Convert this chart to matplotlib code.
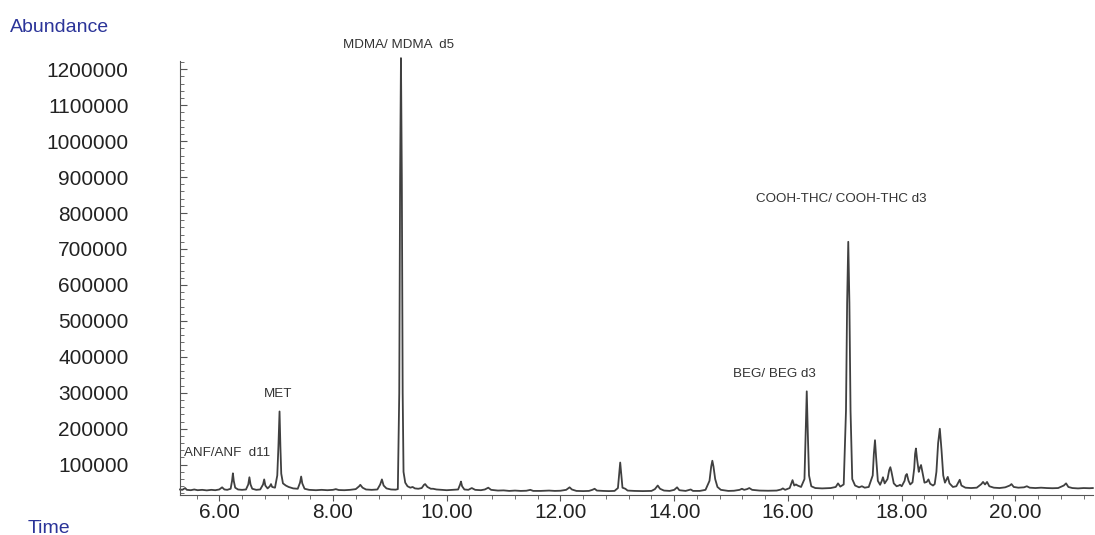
import matplotlib.pyplot as plt
from matplotlib.ticker import MultipleLocator, FormatStrFormatter

plt.rcParams['font.family'] = ['Liberation Sans', 'DejaVu Sans']

# retention time (min) and abundance
time = [5.31, 5.35, 5.38, 5.40, 5.43, 5.50, 5.56, 5.62, 5.70, 5.78, 5.86, 5.93, 6.00, 6.05, 6.09,
        6.14, 6.20, 6.225, 6.24, 6.255, 6.28, 6.33, 6.40, 6.47, 6.51, 6.53, 6.55, 6.58, 6.65, 6.72,
        6.77, 6.79, 6.81, 6.85, 6.89, 6.91, 6.93, 6.98, 7.02, 7.04, 7.06, 7.075, 7.09, 7.12, 7.17,
        7.22, 7.30, 7.38, 7.42, 7.44, 7.46, 7.50, 7.58, 7.70, 7.80, 7.90, 8.00, 8.05, 8.10, 8.20,
        8.30, 8.40, 8.46, 8.48, 8.52, 8.58, 8.68, 8.78, 8.83, 8.86, 8.89, 8.94, 9.02, 9.10, 9.14,
        9.165, 9.18, 9.195, 9.21, 9.225, 9.24, 9.27, 9.31, 9.36, 9.40, 9.44, 9.50, 9.56, 9.60, 9.62,
        9.66, 9.72, 9.76, 9.82, 9.90, 10.00, 10.10, 10.20, 10.235, 10.25, 10.27, 10.31, 10.38, 10.44,
        10.50, 10.60, 10.67, 10.73, 10.78, 10.90, 11.00,
        11.10, 11.20, 11.30, 11.40, 11.47, 11.52, 11.65, 11.80, 11.90, 12.00, 12.10, 12.16, 12.20,
        12.28, 12.40, 12.50, 12.56, 12.60, 12.64, 12.75, 12.85, 12.95, 13.01, 13.03, 13.05, 13.07,
        13.09, 13.14, 13.18, 13.30, 13.45, 13.60, 13.66, 13.71, 13.75, 13.82, 13.92, 14.00, 14.05,
        14.09, 14.20, 14.29, 14.33, 14.45, 14.55, 14.62, 14.65, 14.67, 14.69, 14.72, 14.76, 14.82,
        14.95, 15.05, 15.15, 15.19, 15.23, 15.28, 15.32, 15.37, 15.50, 15.65, 15.80, 15.88, 15.91,
        15.95, 16.03, 16.08, 16.11, 16.14, 16.17, 16.23, 16.29, 16.31, 16.33, 16.35, 16.37, 16.41,
        16.48,
        16.60, 16.75, 16.84, 16.88, 16.92, 16.98, 17.02, 17.04, 17.06, 17.08, 17.10, 17.13, 17.18,
        17.25, 17.30, 17.35, 17.42, 17.49, 17.51, 17.53, 17.55, 17.58, 17.62, 17.65, 17.67, 17.70,
        17.75, 17.78, 17.80, 17.82, 17.86, 17.91, 17.95, 17.97, 18.00, 18.05, 18.07, 18.09, 18.12,
        18.15, 18.19, 18.22, 18.235, 18.25, 18.27, 18.30, 18.32, 18.34, 18.37, 18.40, 18.44, 18.47,
        18.50, 18.55, 18.58, 18.61, 18.64, 18.67, 18.70, 18.73, 18.76, 18.79, 18.81, 18.84, 18.90,
        18.96, 19.00, 19.02, 19.05, 19.12, 19.22, 19.32, 19.40, 19.43, 19.465, 19.50, 19.54, 19.62,
        19.72, 19.82, 19.90, 19.93, 19.97, 20.05, 20.15, 20.20, 20.25, 20.35, 20.45, 20.55, 20.65,
        20.75, 20.85, 20.89, 20.93, 21.00, 21.10, 21.20, 21.30, 21.36]

abundance = [31000, 30000, 33000, 35000, 30000, 29000, 31000, 29000, 30000, 28500, 30000, 29000, 31000, 37000, 31000,
             30000, 33000, 55000, 76000, 55000, 36000, 31000, 30000, 31000, 45000, 65000, 45000, 33000, 30000, 31000,
             45000, 59000, 42000, 34000, 40000, 46000, 38000, 36000, 70000, 150000, 248000, 150000, 75000, 48000, 42000,
             38000, 34000, 33000, 50000, 67000, 48000, 33000, 30000, 29000, 30000, 29000, 30000, 32000, 29500, 29000,
             30000, 32000, 40000, 44000, 36000, 31000, 30000, 31000, 45000, 59000, 42000, 34000, 31000, 30500, 32000,
             300000, 900000, 1231000, 900000, 300000, 80000, 50000, 40000, 36000, 38000, 34000, 33000, 35000, 44000, 46000,
             38000, 33000, 33000, 31000, 30000, 29000, 30000, 31000, 45000, 53000, 40000, 31000, 30000, 35000,
             30000, 29000, 31000, 36000, 30000, 28000, 28500,
             27000, 28000, 27000, 27500, 30000, 27000, 27000, 28000, 27000, 27500, 30000, 37000, 31000,
             27000, 26500, 27000, 30000, 33000, 28000, 27000, 26500, 27000, 35000, 70000, 106000, 70000,
             36000, 33000, 28000, 27000, 26500, 27000, 32000, 42000, 33000, 28000, 27000, 30000, 37000,
             29000, 27000, 31000, 27000, 27000, 30000, 55000, 95000, 111000, 95000, 60000, 38000, 30000,
             27000, 27500, 30000, 33000, 30000, 32000, 35000, 30000, 28000, 27500, 28000, 31000, 34000,
             30000, 35000, 57000, 42000, 45000, 42000, 38000, 60000, 180000, 304000, 180000, 70000, 40000,
             35000,
             34000, 35000, 38000, 48000, 39000, 45000, 250000, 550000, 720000, 550000, 250000, 60000, 42000,
             37000, 40000, 36000, 38000, 70000, 130000, 168000, 120000, 55000, 44000, 55000, 65000, 48000,
             60000, 85000, 93000, 80000, 48000, 40000, 42000, 44000, 40000, 55000, 70000, 74000, 55000,
             45000, 51000, 90000, 130000, 145000, 115000, 80000, 92000, 99000, 75000, 50000, 52000, 59000,
             47000, 42000, 46000, 80000, 160000, 200000, 140000, 70000, 50000, 60000, 66000, 48000, 38000,
             40000, 52000, 58000, 42000, 36000, 35000, 36000, 46000, 52000, 45000, 52000, 40000, 36000,
             35000, 37000, 42000, 46000, 38000, 36000, 37000, 40000, 36000, 35000, 36000, 35000, 34500,
             35000, 42000, 48000, 38000, 35000, 34000, 35000, 34500, 35000]

# peak labels: text, retention time, abundance where the label sits
peak_names = ['ANF/ANF  d11', 'MET', 'MDMA/ MDMA  d5', 'BEG/ BEG d3', 'COOH-THC/ COOH-THC d3']
peak_rt = [5.38, 7.04, 9.15, 15.77, 16.93]
peak_lab_y = [133000, 297000, 1268000, 353000, 839000]

fig = plt.figure(figsize=(10.95, 5.35), dpi=100)
ax = fig.add_axes([0.1644, 0.075, 0.8336, 0.811])

ax.plot(time, abundance, color='#404040', lw=1.3, clip_on=False)

ax.set_xlim(5.31, 21.36)
ax.set_ylim(16000, 1223000)

for i, name in enumerate(peak_names):
    ha = 'left' if i == 0 else 'center'
    ax.text(peak_rt[i], peak_lab_y[i], name, ha=ha, va='center', fontsize=9.6,
            color='#333333', clip_on=False)

ax.spines['top'].set_visible(False)
ax.spines['right'].set_visible(False)
ax.spines['left'].set_color('#555555')
ax.spines['bottom'].set_color('#555555')

ax.xaxis.set_major_locator(MultipleLocator(2))
ax.xaxis.set_minor_locator(MultipleLocator(0.4))
ax.xaxis.set_major_formatter(FormatStrFormatter('%.2f'))
ax.yaxis.set_major_locator(MultipleLocator(100000))
ax.yaxis.set_minor_locator(MultipleLocator(20000))
ax.yaxis.set_major_formatter(FormatStrFormatter('%d'))

ax.tick_params(axis='y', which='major', direction='in', length=5, color='#555555',
               labelsize=15, labelcolor='#222222', pad=37)
ax.tick_params(axis='y', which='minor', direction='in', length=3, color='#555555')
ax.tick_params(axis='x', which='major', direction='out', length=4, color='#555555',
               labelsize=15, labelcolor='#222222', pad=2)
ax.tick_params(axis='x', which='minor', direction='out', length=3, color='#555555')

fig.text(0.009, 0.948, 'Abundance', fontsize=14, color='#2b3499', va='center')
fig.text(0.025, 0.012, 'Time', fontsize=14, color='#2b3499', va='center')

plt.savefig('out.png')
